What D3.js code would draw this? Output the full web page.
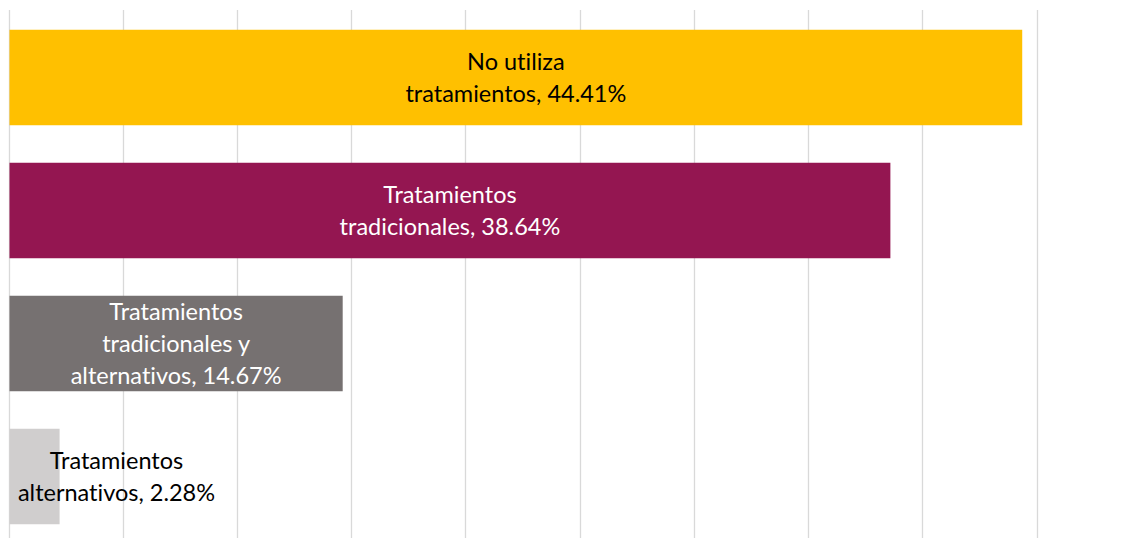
<!DOCTYPE html>
<html><head><meta charset="utf-8">
<script src="https://cdn.jsdelivr.net/npm/d3@7"></script>
<style>html,body{margin:0;padding:0;background:#fff;overflow:hidden}
text{font-variant-ligatures:none;font-feature-settings:"liga" 0,"clig" 0}</style>
</head><body>
<svg id="c" width="1147" height="538"></svg>
<script>
const categories = ["No utiliza tratamientos","Tratamientos tradicionales","Tratamientos tradicionales y alternativos","Tratamientos alternativos"];
const values = [44.41, 38.64, 14.67, 2.28];
const labelLines = [
  ["No utiliza","tratamientos, 44.41%"],
  ["Tratamientos","tradicionales, 38.64%"],
  ["Tratamientos","tradicionales y","alternativos, 14.67%"],
  ["Tratamientos","alternativos, 2.28%"]
];
const colors = ["#FFC000","#941651","#767171","#D0CECE"];
const textColors = ["#000000","#ffffff","#ffffff","#000000"];
const gridTicks = [0,5,10,15,20,25,30,35,40,45];

const svg = d3.select("#c");
const x = d3.scaleLinear().domain([0,45]).range([8.5,1036.7]);
const y = d3.scaleBand().domain(categories).range([11,543]).paddingInner(0.282).paddingOuter(0.141);

svg.append("g").selectAll("line").data(gridTicks).join("line")
  .attr("x1",d=>Math.round(x(d))+0.5).attr("x2",d=>Math.round(x(d))+0.5)
  .attr("y1",10).attr("y2",538)
  .attr("stroke","#d9d9d9").attr("stroke-width",1.3);

svg.append("g").selectAll("rect").data(values).join("rect")
  .attr("x",x(0)+1).attr("y",(d,i)=>y(categories[i]))
  .attr("width",d=>x(d)-x(0)-2).attr("height",y.bandwidth())
  .attr("fill",(d,i)=>colors[i]);

const lh = 32;
values.forEach((v,i)=>{
  const cx = Math.max((x(0)+x(v))/2, x(0)+108);
  const cy = y(categories[i]) + y.bandwidth()/2;
  const lines = labelLines[i];
  const t = svg.append("text").attr("text-anchor","middle")
    .attr("font-family","Lato, 'Open Sans', sans-serif").attr("font-size",23.5)
    .attr("fill",textColors[i]);
  lines.forEach((l,j)=>{
    t.append("tspan").attr("x",cx)
      .attr("y",cy + (j-(lines.length-1)/2)*lh).attr("dy","0.35em").text(l);
  });
});
</script>
</body></html>
